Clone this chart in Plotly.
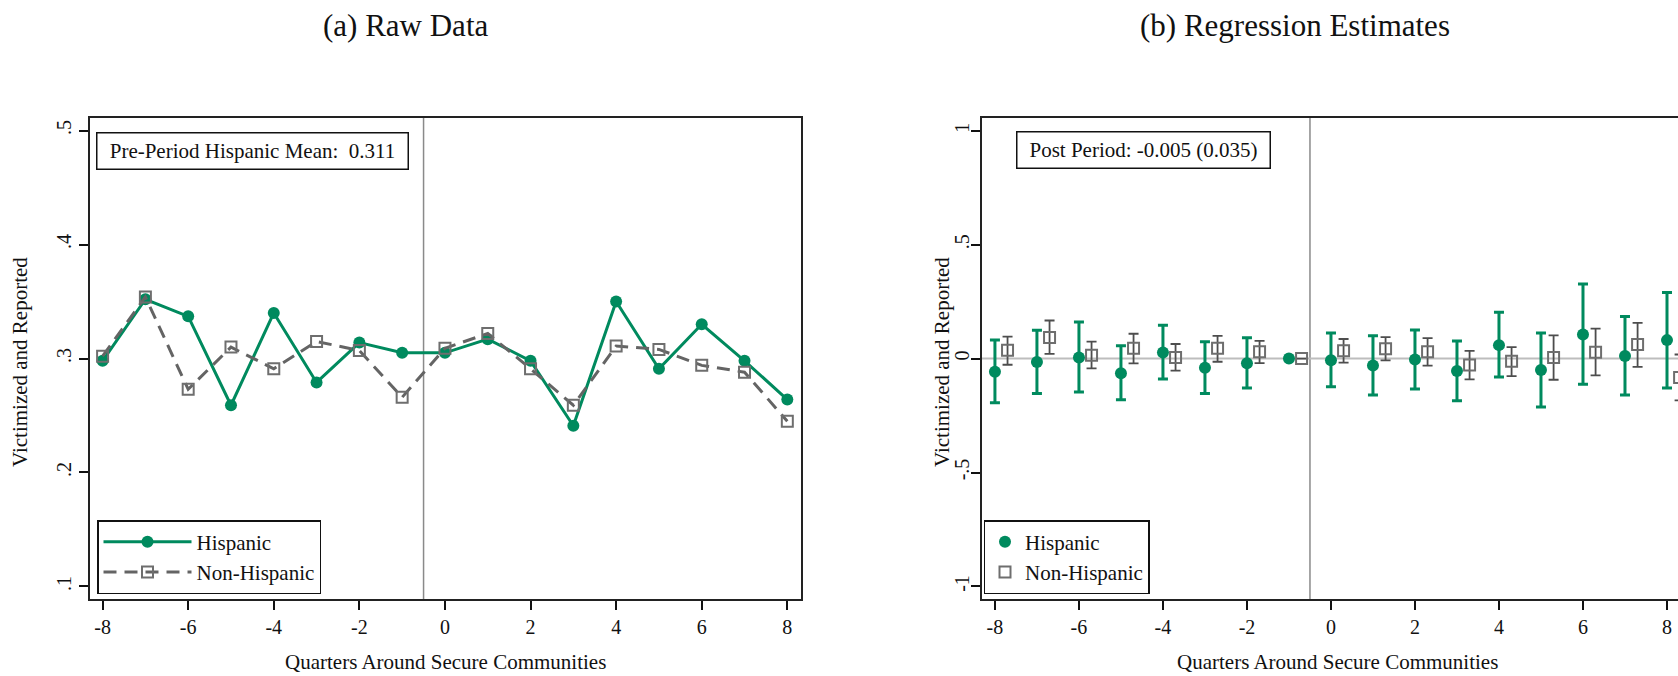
import plotly.graph_objects as go

# ---------------- data ----------------
quarters = list(range(-8, 9))

# Panel (a): raw means
hisp_raw = [0.298, 0.352, 0.337, 0.259, 0.340, 0.279, 0.314, 0.305, 0.305,
            0.317, 0.298, 0.241, 0.350, 0.291, 0.330, 0.298, 0.264]
nonhisp_raw = [0.302, 0.354, 0.273, 0.310, 0.291, 0.315, 0.307, 0.266, 0.309,
               0.322, 0.291, 0.259, 0.311, 0.308, 0.294, 0.288, 0.245]

# Panel (b): regression estimates with 95% CI
hisp_est = [-0.058, -0.015, 0.005, -0.064, 0.027, -0.040, -0.020, 0.000, -0.007,
            -0.030, -0.004, -0.055, 0.059, -0.050, 0.106, 0.011, 0.081]
hisp_lo = [-0.194, -0.153, -0.147, -0.181, -0.090, -0.153, -0.129, 0.000, -0.124,
           -0.160, -0.134, -0.185, -0.081, -0.213, -0.113, -0.160, -0.129]
hisp_hi = [0.081, 0.124, 0.160, 0.056, 0.146, 0.074, 0.091, 0.000, 0.112,
           0.100, 0.125, 0.077, 0.203, 0.112, 0.327, 0.185, 0.290]
nonh_est = [0.036, 0.093, 0.015, 0.045, 0.005, 0.045, 0.030, 0.000, 0.034,
            0.043, 0.030, -0.028, -0.012, 0.005, 0.028, 0.062, -0.083]
nonh_lo = [-0.027, 0.021, -0.043, -0.021, -0.053, -0.014, -0.020, 0.000, -0.018,
           -0.008, -0.031, -0.091, -0.077, -0.093, -0.074, -0.036, -0.183]
nonh_hi = [0.096, 0.167, 0.074, 0.109, 0.064, 0.100, 0.078, 0.000, 0.086,
           0.094, 0.090, 0.034, 0.050, 0.102, 0.131, 0.157, 0.018]
nonh_offset = 0.3

x_ticks = [-8, -6, -4, -2, 0, 2, 4, 6, 8]
x_labels = ["-8", "-6", "-4", "-2", "0", "2", "4", "6", "8"]
y1_ticks = [0.1, 0.2, 0.3, 0.4, 0.5]
y1_labels = [".1", ".2", ".3", ".4", ".5"]
y2_ticks = [-1, -0.5, 0, 0.5, 1]
y2_labels = ["-1", "-.5", "0", ".5", "1"]

# ---------------- style ----------------
W, H = 1678, 676
GREEN = "#008a5e"
GREY = "#646464"
SQ = "#6e6e6e"
FONT = "Liberation Serif"

def px_x(p):
    return p / W

def px_y(p):
    return 1 - p / H

fig = go.Figure()

# Panel (a)
fig.add_trace(go.Scatter(
    x=quarters, y=hisp_raw, mode="lines+markers", name="Hispanic",
    line=dict(color=GREEN, width=3),
    marker=dict(color=GREEN, size=12, symbol="circle"),
    xaxis="x", yaxis="y", legend="legend"))
fig.add_trace(go.Scatter(
    x=quarters, y=nonhisp_raw, mode="lines+markers", name="Non-Hispanic",
    line=dict(color=GREY, width=3, dash="13px,8px"),
    marker=dict(color=SQ, size=11, symbol="square-open", line=dict(width=2, color=SQ)),
    xaxis="x", yaxis="y", legend="legend"))

# Panel (b)
hx = quarters
nx = [q + nonh_offset for q in quarters]
fig.add_trace(go.Scatter(
    x=hx, y=hisp_est, mode="markers", name="Hispanic",
    marker=dict(color=GREEN, size=12, symbol="circle"),
    error_y=dict(type="data", symmetric=False,
                 array=[h - e for h, e in zip(hisp_hi, hisp_est)],
                 arrayminus=[e - l for e, l in zip(hisp_est, hisp_lo)],
                 color=GREEN, thickness=3, width=5),
    xaxis="x2", yaxis="y2", legend="legend2"))
fig.add_trace(go.Scatter(
    x=nx, y=nonh_est, mode="markers", name="Non-Hispanic",
    marker=dict(color=SQ, size=11, symbol="square-open", line=dict(width=2, color="#5a5a5a")),
    error_y=dict(type="data", symmetric=False,
                 array=[h - e for h, e in zip(nonh_hi, nonh_est)],
                 arrayminus=[e - l for e, l in zip(nonh_est, nonh_lo)],
                 color="#4d4d4d", thickness=1.8, width=5),
    xaxis="x2", yaxis="y2", legend="legend2"))

axis_common = dict(
    showgrid=False, zeroline=False, showline=True, linecolor="#222", linewidth=2,
    ticks="outside", ticklen=9, tickwidth=1.5, tickcolor="#111",
    tickfont=dict(family=FONT, size=20, color="#111"),
)

plot_top, plot_bot = 117.7, 599.0
ydom = [px_y(plot_bot), px_y(plot_top)]

fig.update_layout(
    width=W, height=H, margin=dict(l=0, r=0, t=0, b=0),
    paper_bgcolor="white", plot_bgcolor="white",
    font=dict(family=FONT, size=21, color="#111"),
    xaxis=dict(domain=[px_x(89.5), px_x(800.5)], range=[-8.306, 8.308],
               tickvals=x_ticks, ticktext=x_labels, mirror=True, anchor="y", **axis_common),
    yaxis=dict(domain=ydom, range=[0.089, 0.5113], tickvals=y1_ticks, ticktext=y1_labels,
               tickangle=-90, mirror=True, anchor="x", **axis_common),
    xaxis2=dict(domain=[px_x(981.5), 1.0], range=[-8.32, 8.262],
                tickvals=x_ticks, ticktext=x_labels, mirror=True, anchor="y2", **axis_common),
    yaxis2=dict(domain=ydom, range=[-1.055, 1.057], tickvals=y2_ticks, ticktext=y2_labels,
                tickangle=-90, mirror=False, anchor="x2", ticklabelstandoff=-6,
                **axis_common),
    legend=dict(x=px_x(97), y=px_y(594), xanchor="left", yanchor="bottom",
                bgcolor="white", bordercolor="#111", borderwidth=1.5,
                font=dict(family=FONT, size=21, color="#111"),
                itemwidth=88, entrywidth=128, tracegroupgap=0),
    legend2=dict(x=px_x(983.5), y=px_y(594), xanchor="left", yanchor="bottom",
                 bgcolor="white", bordercolor="#111", borderwidth=1.5,
                 font=dict(family=FONT, size=21, color="#111"),
                 itemwidth=30, tracegroupgap=0),
    showlegend=True,
)

# reference lines
fig.add_shape(type="line", xref="x", yref="y domain", x0=-0.5, x1=-0.5, y0=0, y1=1,
              line=dict(color="#8a8a8a", width=1.5), layer="below")
fig.add_shape(type="line", xref="x2", yref="y2 domain", x0=-0.5, x1=-0.5, y0=0, y1=1,
              line=dict(color="#8a8a8a", width=1.5), layer="below")
fig.add_shape(type="line", xref="x2 domain", yref="y2", x0=0, x1=1, y0=0, y1=0,
              line=dict(color="#bdbdbd", width=2), layer="below")

# text boxes
fig.add_annotation(xref="paper", yref="paper", x=px_x(96), y=px_y(131.6),
                   xanchor="left", yanchor="top", showarrow=False,
                   text="Pre-Period Hispanic Mean:&nbsp; 0.311",
                   width=306, height=31, borderpad=2, bordercolor="#111", borderwidth=1.5,
                   bgcolor="white", font=dict(family=FONT, size=21, color="#111"))
fig.add_annotation(xref="paper", yref="paper", x=px_x(1015.6), y=px_y(130.6),
                   xanchor="left", yanchor="top", showarrow=False,
                   text="Post Period: -0.005 (0.035)",
                   width=248, height=31, borderpad=2, bordercolor="#111", borderwidth=1.5,
                   bgcolor="white", font=dict(family=FONT, size=21, color="#111"))

# panel titles
fig.add_annotation(xref="paper", yref="paper", x=px_x(405.6), y=px_y(26),
                   xanchor="center", yanchor="middle", showarrow=False,
                   text="(a) Raw Data", font=dict(family=FONT, size=31, color="#111"))
fig.add_annotation(xref="paper", yref="paper", x=px_x(1295), y=px_y(26),
                   xanchor="center", yanchor="middle", showarrow=False,
                   text="(b) Regression Estimates", font=dict(family=FONT, size=31, color="#111"))

# axis titles
for xc in (445, 1337):
    fig.add_annotation(xref="paper", yref="paper", x=px_x(xc), y=px_y(662),
                       xanchor="center", yanchor="middle", showarrow=False,
                       text="Quarters Around Secure Communities",
                       font=dict(family=FONT, size=21, color="#111"))
for xc in (20, 942):
    fig.add_annotation(xref="paper", yref="paper", x=px_x(xc), y=px_y(362),
                       xanchor="center", yanchor="middle", showarrow=False, textangle=-90,
                       text="Victimized and Reported",
                       font=dict(family=FONT, size=21, color="#111"))

fig.write_html("out.html")
